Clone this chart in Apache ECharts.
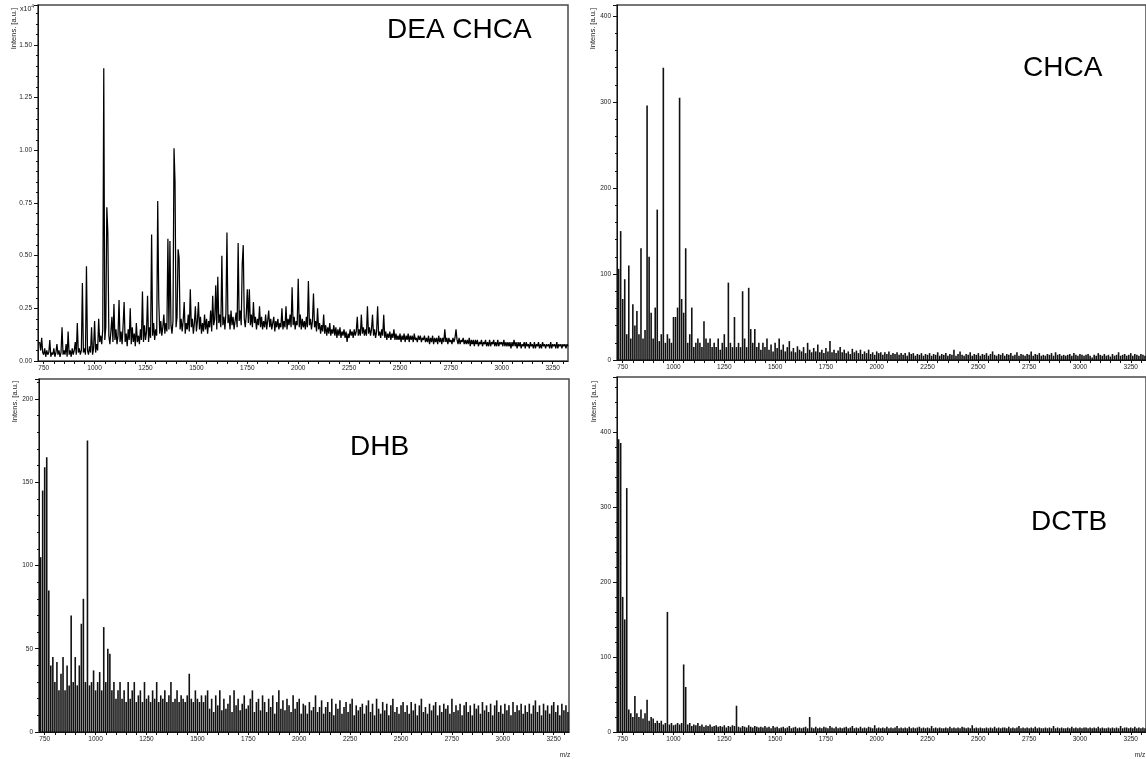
<!DOCTYPE html>
<html>
<head>
<meta charset="utf-8">
<script src="https://cdn.jsdelivr.net/npm/echarts@6/dist/echarts.min.js"></script>
<style>
  html, body { margin: 0; padding: 0; background: #fff; }
  #chart { width: 1146px; height: 759px; }
</style>
</head>
<body>
<div id="chart"></div>
<script>
// m/z sampling grids
const profileStart = 730;   // DEA CHCA profile trace
const profileStep = 5;
const stickStart = 730;     // centroid stick spectra
const stickStep = 10;

// x-axis labels (m/z)
const mzLabels = [750, 1000, 1250, 1500, 1750, 2000, 2250, 2500, 2750, 3000, 3250];

// DEA CHCA, intensity in units of 1e4 a.u., one row per 100 m/z
const deaChca = [
  0.09, 0.05, 0.11, 0.04, 0.03, 0.06, 0.02, 0.05, 0.03, 0.04, 0.10, 0.02, 0.04, 0.03, 0.06, 0.02, 0.04, 0.08, 0.03, 0.05,
  0.02, 0.04, 0.16, 0.03, 0.05, 0.03, 0.08, 0.02, 0.14, 0.03, 0.05, 0.02, 0.06, 0.03, 0.05, 0.09, 0.03, 0.18, 0.04, 0.06,
  0.03, 0.05, 0.37, 0.04, 0.06, 0.03, 0.45, 0.05, 0.03, 0.07, 0.04, 0.16, 0.03, 0.06, 0.19, 0.04, 0.08, 0.05, 0.20, 0.09,
  0.12, 0.08, 0.15, 1.39, 0.10, 0.16, 0.73, 0.61, 0.12, 0.08, 0.14, 0.21, 0.09, 0.27, 0.10, 0.15, 0.08, 0.12, 0.29, 0.09,
  0.14, 0.08, 0.17, 0.28, 0.09, 0.13, 0.07, 0.15, 0.10, 0.25, 0.08, 0.16, 0.09, 0.13, 0.07, 0.18, 0.09, 0.12, 0.08, 0.15,
  0.10, 0.33, 0.09, 0.17, 0.10, 0.14, 0.31, 0.09, 0.16, 0.11, 0.60, 0.12, 0.18, 0.10, 0.15, 0.12, 0.76, 0.29, 0.13, 0.19,
  0.12, 0.16, 0.22, 0.13, 0.18, 0.14, 0.58, 0.15, 0.57, 0.17, 0.13, 0.19, 1.01, 0.85, 0.16, 0.21, 0.53, 0.49, 0.15, 0.20,
  0.14, 0.19, 0.28, 0.13, 0.18, 0.15, 0.22, 0.14, 0.34, 0.16, 0.20, 0.13, 0.18, 0.26, 0.14, 0.19, 0.28, 0.15, 0.21, 0.13,
  0.18, 0.14, 0.22, 0.15, 0.20, 0.13, 0.19, 0.16, 0.24, 0.14, 0.31, 0.17, 0.20, 0.36, 0.15, 0.40, 0.18, 0.22, 0.16, 0.50,
  0.17, 0.21, 0.15, 0.23, 0.61, 0.18, 0.22, 0.15, 0.24, 0.17, 0.21, 0.15, 0.19, 0.23, 0.16, 0.56, 0.19, 0.24, 0.17, 0.46,
  0.55, 0.20, 0.16, 0.22, 0.34, 0.18, 0.34, 0.17, 0.22, 0.16, 0.28, 0.18, 0.21, 0.15, 0.20, 0.17, 0.26, 0.16, 0.21, 0.15,
  0.19, 0.16, 0.22, 0.15, 0.19, 0.24, 0.16, 0.20, 0.15, 0.18, 0.21, 0.14, 0.19, 0.16, 0.20, 0.15, 0.18, 0.16, 0.25, 0.15,
  0.19, 0.16, 0.26, 0.15, 0.20, 0.17, 0.22, 0.16, 0.35, 0.17, 0.21, 0.15, 0.19, 0.17, 0.39, 0.16, 0.22, 0.15, 0.20, 0.16,
  0.19, 0.15, 0.21, 0.16, 0.38, 0.17, 0.20, 0.15, 0.19, 0.32, 0.16, 0.19, 0.14, 0.25, 0.15, 0.18, 0.13, 0.17, 0.14, 0.22,
  0.13, 0.17, 0.12, 0.16, 0.13, 0.18, 0.12, 0.15, 0.13, 0.17, 0.12, 0.16, 0.11, 0.15, 0.12, 0.16, 0.11, 0.14, 0.12, 0.15,
  0.11, 0.14, 0.09, 0.13, 0.11, 0.15, 0.12, 0.14, 0.11, 0.15, 0.12, 0.14, 0.21, 0.12, 0.15, 0.12, 0.22, 0.13, 0.16, 0.12,
  0.15, 0.12, 0.26, 0.13, 0.16, 0.12, 0.15, 0.22, 0.12, 0.15, 0.11, 0.14, 0.26, 0.12, 0.14, 0.11, 0.15, 0.12, 0.22, 0.11,
  0.14, 0.10, 0.13, 0.11, 0.14, 0.10, 0.13, 0.11, 0.15, 0.10, 0.13, 0.10, 0.12, 0.10, 0.13, 0.09, 0.12, 0.10, 0.13, 0.09,
  0.12, 0.10, 0.13, 0.09, 0.12, 0.10, 0.12, 0.09, 0.13, 0.10, 0.11, 0.09, 0.12, 0.10, 0.12, 0.09, 0.11, 0.10, 0.12, 0.09,
  0.11, 0.09, 0.12, 0.08, 0.11, 0.09, 0.12, 0.08, 0.11, 0.09, 0.11, 0.08, 0.12, 0.09, 0.11, 0.08, 0.11, 0.09, 0.15, 0.09,
  0.11, 0.08, 0.11, 0.09, 0.10, 0.08, 0.11, 0.09, 0.11, 0.15, 0.10, 0.08, 0.11, 0.08, 0.10, 0.09, 0.11, 0.08, 0.10, 0.08,
  0.10, 0.08, 0.11, 0.07, 0.10, 0.08, 0.10, 0.07, 0.10, 0.08, 0.10, 0.07, 0.09, 0.08, 0.10, 0.07, 0.09, 0.08, 0.10, 0.07,
  0.09, 0.07, 0.10, 0.07, 0.09, 0.08, 0.10, 0.07, 0.09, 0.07, 0.10, 0.07, 0.09, 0.08, 0.09, 0.07, 0.10, 0.07, 0.09, 0.07,
  0.09, 0.07, 0.09, 0.06, 0.09, 0.07, 0.10, 0.07, 0.09, 0.06, 0.09, 0.07, 0.09, 0.06, 0.08, 0.07, 0.09, 0.06, 0.09, 0.07,
  0.08, 0.06, 0.09, 0.07, 0.08, 0.06, 0.09, 0.06, 0.08, 0.07, 0.09, 0.06, 0.08, 0.06, 0.09, 0.07, 0.08, 0.06, 0.08, 0.07,
  0.08, 0.06, 0.09, 0.06, 0.08, 0.07, 0.08, 0.06, 0.09, 0.06, 0.08, 0.07, 0.08, 0.06, 0.08, 0.07, 0.08, 0.06, 0.08, 0.07
];

// CHCA, intensity a.u. (one row per 100 m/z)
const chca = [
  106, 150, 71, 94, 30, 110, 25, 65, 40, 57,
  30, 130, 25, 35, 296, 120, 55, 25, 61, 175,
  22, 30, 340, 20, 30, 25, 20, 50, 50, 61,
  305, 71, 55, 130, 20, 30, 61, 15, 20, 25,
  20, 15, 45, 25, 20, 25, 15, 20, 15, 25,
  12, 20, 30, 15, 90, 20, 15, 50, 15, 20,
  15, 80, 25, 15, 84, 36, 20, 36, 15, 20,
  12, 20, 15, 25, 12, 18, 10, 20, 14, 25,
  12, 18, 10, 15, 22, 10, 14, 9, 16, 12,
  10, 15, 8, 20, 12, 9, 14, 10, 18, 9,
  12, 8, 14, 10, 22, 9, 12, 8, 11, 15,
  9, 12, 8, 10, 7, 13, 9, 11, 8, 12,
  7, 10, 8, 12, 7, 9, 6, 10, 8, 9,
  6, 9, 7, 10, 6, 8, 7, 9, 6, 8,
  6, 8, 5, 9, 7, 8, 5, 7, 6, 8,
  5, 7, 6, 8, 5, 7, 6, 9, 5, 7,
  6, 8, 5, 7, 6, 12, 5, 7, 10, 6,
  5, 7, 6, 9, 5, 7, 6, 8, 5, 7,
  6, 8, 5, 7, 10, 6, 5, 7, 6, 8,
  5, 7, 6, 8, 5, 6, 9, 5, 7, 6,
  5, 7, 6, 10, 5, 7, 6, 8, 5, 6,
  5, 7, 6, 8, 5, 9, 6, 7, 5, 6,
  5, 6, 7, 5, 8, 6, 5, 7, 6, 5,
  6, 7, 5, 3, 6, 5, 8, 6, 5, 7,
  5, 6, 4, 7, 5, 6, 9, 5, 6, 7,
  5, 6, 8, 5, 7, 6, 5, 7, 6, 5
];

// DHB, intensity a.u.
const dhb = [
  105, 145, 159, 165, 85, 40, 45, 30, 42, 25,
  35, 45, 25, 40, 28, 70, 30, 45, 28, 40,
  65, 80, 30, 175, 28, 30, 37, 25, 30, 36,
  25, 63, 30, 50, 47, 25, 30, 20, 25, 30,
  20, 25, 18, 30, 20, 25, 30, 18, 22, 25,
  18, 30, 20, 22, 18, 25, 20, 30, 18, 22,
  20, 25, 18, 22, 30, 18, 20, 25, 18, 22,
  20, 18, 22, 35, 20, 18, 25, 20, 18, 22,
  18, 22, 25, 14, 20, 12, 22, 16, 25, 13,
  20, 14, 17, 22, 12, 25, 16, 20, 13, 17,
  22, 14, 16, 20, 25, 12, 18, 20, 13, 22,
  18, 12, 20, 15, 22, 11, 18, 25, 14, 19,
  13, 20, 16, 12, 22, 14, 18, 20, 11, 17,
  16, 11, 18, 13, 15, 22, 12, 15, 19, 11,
  15, 18, 12, 20, 10, 17, 14, 19, 11, 15,
  18, 12, 17, 20, 10, 16, 13, 15, 17, 11,
  16, 19, 12, 17, 10, 20, 14, 11, 18, 13,
  17, 10, 16, 20, 12, 15, 11, 16, 18, 12,
  16, 11, 18, 13, 17, 10, 16, 20, 12, 15,
  11, 17, 13, 16, 18, 10, 16, 12, 17, 14,
  16, 11, 20, 12, 16, 13, 17, 10, 16, 18,
  12, 16, 10, 17, 14, 16, 11, 18, 13, 16,
  12, 17, 10, 16, 19, 12, 16, 11, 17, 13,
  16, 10, 18, 12, 16, 13, 17, 11, 16, 12,
  17, 11, 16, 19, 12, 16, 10, 17, 13, 16,
  11, 16, 18, 12, 16, 10, 17, 13, 16, 12
];

// DCTB, intensity a.u.
const dctb = [
  390, 385, 180, 150, 325, 30, 25, 20, 48, 25,
  20, 30, 18, 25, 43, 15, 20, 18, 12, 15,
  12, 15, 10, 12, 160, 10, 12, 9, 10, 12,
  10, 12, 90, 60, 10, 12, 8, 10, 9, 12,
  8, 10, 7, 9, 8, 10, 7, 8, 9, 7,
  8, 7, 9, 6, 8, 7, 9, 8, 35, 7,
  6, 8, 7, 6, 9, 7, 6, 8, 7, 6,
  7, 6, 8, 6, 7, 5, 8, 6, 7, 5,
  6, 7, 5, 6, 8, 5, 6, 7, 5, 6,
  5, 6, 7, 5, 20, 6, 5, 7, 5, 6,
  5, 7, 6, 5, 8, 6, 5, 7, 5, 6,
  5, 6, 7, 5, 6, 8, 5, 6, 5, 7,
  5, 6, 5, 7, 6, 5, 9, 5, 6, 5,
  6, 5, 7, 5, 6, 5, 6, 8, 5, 6,
  5, 6, 5, 7, 5, 6, 5, 6, 7, 5,
  6, 5, 6, 5, 8, 5, 6, 5, 6, 5,
  5, 6, 5, 7, 5, 6, 5, 6, 5, 7,
  6, 5, 6, 5, 9, 5, 6, 5, 6, 5,
  5, 6, 5, 6, 5, 7, 5, 6, 5, 6,
  6, 5, 7, 5, 6, 5, 6, 8, 5, 6,
  5, 6, 5, 6, 5, 7, 5, 6, 5, 5,
  6, 5, 6, 5, 8, 5, 6, 5, 6, 5,
  5, 6, 5, 7, 5, 6, 5, 6, 5, 6,
  6, 5, 6, 5, 6, 5, 7, 5, 6, 5,
  5, 6, 5, 6, 5, 6, 5, 8, 5, 6,
  6, 5, 6, 5, 7, 5, 6, 5, 6, 5
];

function pairs(values, start, step) {
  return values.map((v, i) => [start + i * step, v]);
}

// x ticks every 50 m/z, labels every 250
const mzTicks = [];
for (let m = 750; m <= 3300; m += 50) mzTicks.push(m);

const FONT = 'Liberation Sans, Arial, sans-serif';
const MZ_MIN = 722, MZ_MAX = 3325;

const panels = [
  { left: 38,  top: 5,   height: 356, ymax: 1.69, step: 0.25, digits: 2 },
  { left: 617, top: 5,   height: 355, ymax: 413,  step: 100,  digits: 0 },
  { left: 39,  top: 379, height: 353, ymax: 212,  step: 50,   digits: 0 },
  { left: 617, top: 377, height: 355, ymax: 473,  step: 100,  digits: 0 }
];

const grid = panels.map(p => ({
  left: p.left, top: p.top, width: 530, height: p.height,
  show: true, borderColor: '#4a4a4a', borderWidth: 1.5, containLabel: false
}));

const xAxis = panels.map((p, i) => ({
  type: 'value', gridIndex: i, min: MZ_MIN, max: MZ_MAX,
  axisLine: { show: true, onZero: false, lineStyle: { color: '#111', width: 1 } },
  axisTick: { show: true, inside: false, length: 3, customValues: mzTicks, lineStyle: { color: '#111' } },
  axisLabel: {
    show: true, customValues: mzLabels, fontSize: 6.5, margin: 4, color: '#222', fontFamily: FONT,
    formatter: v => String(Math.round(v))
  },
  splitLine: { show: false }
}));

const yAxis = panels.map((p, i) => ({
  type: 'value', gridIndex: i, min: 0, max: p.ymax, interval: p.step,
  axisLine: { show: true, lineStyle: { color: '#111', width: 1 } },
  axisTick: { show: true, inside: false, length: 4, lineStyle: { color: '#111' } },
  minorTick: { show: true, splitNumber: 5, length: 2, lineStyle: { color: '#111' } },
  axisLabel: {
    fontSize: 6.5, margin: 6, color: '#222', fontFamily: FONT, showMaxLabel: false,
    formatter: v => v.toFixed(p.digits)
  },
  splitLine: { show: false }
}));

const stick = (data, i) => ({
  type: 'bar', xAxisIndex: i, yAxisIndex: i, data: pairs(data, stickStart, stickStep),
  barWidth: 1.6, itemStyle: { color: '#111' }, clip: true, silent: true
});

const series = [
  {
    type: 'line', xAxisIndex: 0, yAxisIndex: 0, data: pairs(deaChca, profileStart, profileStep),
    showSymbol: false, symbol: 'none', lineStyle: { color: '#000', width: 1.25 },
    clip: true, silent: true
  },
  stick(chca, 1),
  stick(dhb, 2),
  stick(dctb, 3)
];

function yName(x, y) {
  return {
    type: 'text', x: x, y: y, rotation: Math.PI / 2,
    style: { text: 'Intens. [a.u.]', fontSize: 7.5, fontFamily: FONT, fill: '#222',
             align: 'right', verticalAlign: 'middle' }
  };
}
function title(text, x, y) {
  return {
    type: 'text', x: x, y: y,
    style: { text: text, fontSize: 28, fontFamily: FONT, fill: '#000',
             align: 'left', verticalAlign: 'middle' }
  };
}

const graphic = [
  yName(14, 8), yName(593, 8), yName(15, 381), yName(594, 381),
  {
    type: 'text', x: 20, y: 9,
    style: {
      text: '{b|x10}{s|4}', fontFamily: FONT, fill: '#222', verticalAlign: 'middle',
      rich: { b: { fontSize: 7, fontFamily: FONT, fill: '#222' },
              s: { fontSize: 5, fontFamily: FONT, fill: '#222', verticalAlign: 'top', padding: [0, 0, 4, 0] } }
    }
  },
  { type: 'text', x: 565, y: 755, style: { text: 'm/z', fontSize: 6.5, fontFamily: FONT, fill: '#222', align: 'center', verticalAlign: 'middle' } },
  { type: 'text', x: 1140, y: 755, style: { text: 'm/z', fontSize: 6.5, fontFamily: FONT, fill: '#222', align: 'center', verticalAlign: 'middle' } },
  title('DEA CHCA', 387, 30),
  title('CHCA', 1023, 68),
  title('DHB', 350, 447),
  title('DCTB', 1031, 522)
];

const chart = echarts.init(document.getElementById('chart'), null, { renderer: 'canvas' });
chart.setOption({
  animation: false,
  backgroundColor: '#fff',
  grid: grid,
  xAxis: xAxis,
  yAxis: yAxis,
  series: series,
  graphic: graphic
});
</script>
</body>
</html>
